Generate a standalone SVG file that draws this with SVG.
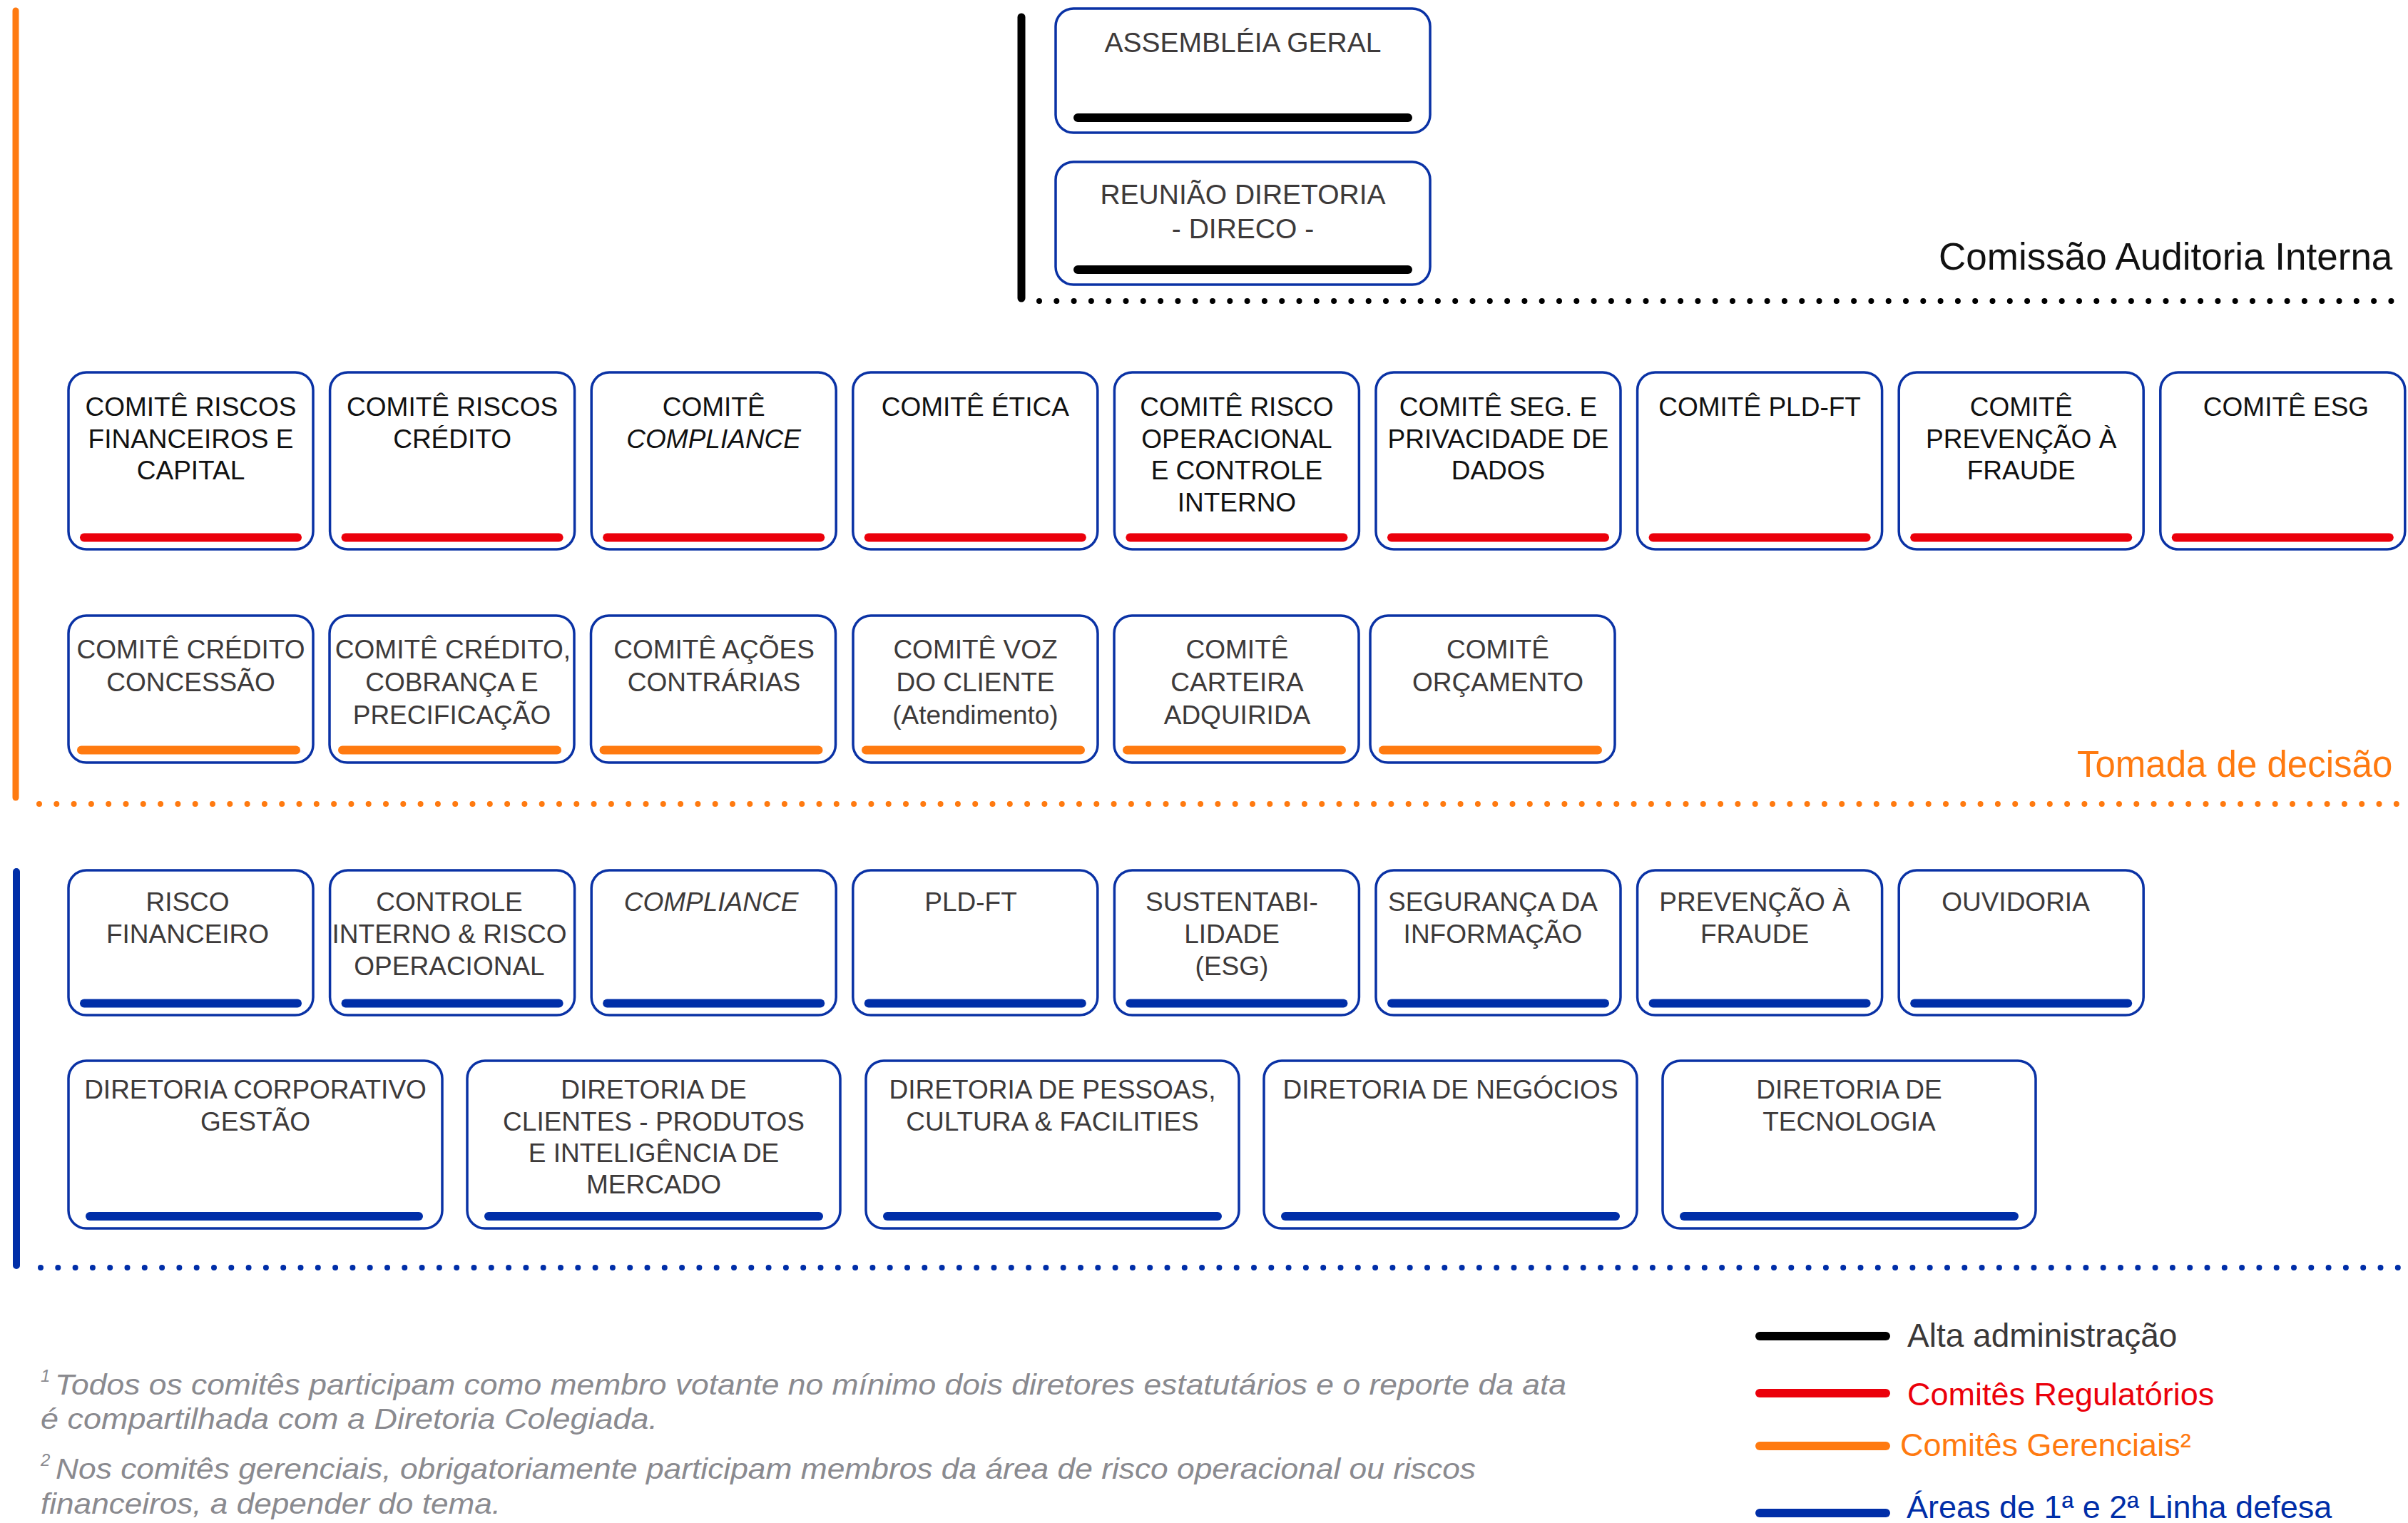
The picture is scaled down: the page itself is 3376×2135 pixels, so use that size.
<svg xmlns="http://www.w3.org/2000/svg" width="3376" height="2135" viewBox="0 0 3376 2135">
<style>
.box{fill:#fff;stroke:#0a32a5;stroke-width:3.5}
.t{font-family:"Liberation Sans",Arial,sans-serif;font-size:37px;text-anchor:middle}
.tb{font-size:39px}
.k{fill:#111}
.g{fill:#3d3a3a}
.i{font-style:italic}
.bar{stroke-width:12;stroke-linecap:round;fill:none}
.bk{stroke:#000}
.rd{stroke:#eb000b}
.or{stroke:#ff7a10}
.bl{stroke:#002ea8}
.dots{stroke-width:8;stroke-linecap:round;stroke-dasharray:0 24.3;fill:none}
.lbl{font-family:"Liberation Sans",Arial,sans-serif}
.fn{font-family:"Liberation Sans",Arial,sans-serif;font-style:italic;fill:#8a8a8f;font-size:40px}
.sup{font-family:"Liberation Sans",Arial,sans-serif;font-style:italic;fill:#8a8a8f;font-size:24px}
</style>

<g id="connectors">
  <line x1="22" y1="15" x2="22" y2="1118" stroke="#ff7a10" stroke-width="9" stroke-linecap="round"/>
  <line x1="23" y1="1222" x2="23" y2="1774" stroke="#002ea8" stroke-width="10" stroke-linecap="round"/>
  <line x1="1432" y1="24" x2="1432" y2="418" stroke="#000" stroke-width="11" stroke-linecap="round"/>
  <line class="dots" x1="1457" y1="422" x2="3376" y2="422" stroke="#000"/>
  <line class="dots" x1="55" y1="1127" x2="3376" y2="1127" stroke="#ff7a10"/>
  <line class="dots" x1="57" y1="1777" x2="3376" y2="1777" stroke="#002ea8"/>
</g>

<g id="labels">
  <text class="lbl" x="2718" y="378" font-size="53" fill="#111">Comissão Auditoria Interna</text>
  <text class="lbl" x="2912" y="1089" font-size="51" fill="#ff7a10">Tomada de decisão</text>
</g>

<!-- Top boxes -->
<g id="assembleia-geral">
  <rect class="box" x="1480" y="12" width="525" height="174" rx="25"/>
  <text class="t tb g" x="1742.5" y="73">ASSEMBLÉIA GERAL</text>
  <line class="bar bk" x1="1511" y1="165" x2="1974" y2="165"/>
</g>
<g id="reuniao-diretoria">
  <rect class="box" x="1480" y="227" width="525" height="172" rx="25"/>
  <text class="t tb g" x="1742.5" y="286">REUNIÃO DIRETORIA</text>
  <text class="t tb g" x="1742.5" y="334">- DIRECO -</text>
  <line class="bar bk" x1="1511" y1="378" x2="1974" y2="378"/>
</g>

<!-- Row 1: Comitês Regulatórios -->
<g id="comite-riscos-financeiros">
  <rect class="box" x="96" y="522" width="343" height="248" rx="25"/>
  <text class="t k" x="267.5" y="583">COMITÊ RISCOS</text>
  <text class="t k" x="267.5" y="627.5">FINANCEIROS E</text>
  <text class="t k" x="267.5" y="672">CAPITAL</text>
  <line class="bar rd" x1="118" y1="753.5" x2="417" y2="753.5"/>
</g>
<g id="comite-riscos-credito">
  <rect class="box" x="462.6" y="522" width="343" height="248" rx="25"/>
  <text class="t k" x="634.1" y="583">COMITÊ RISCOS</text>
  <text class="t k" x="634.1" y="627.5">CRÉDITO</text>
  <line class="bar rd" x1="484.6" y1="753.5" x2="783.6" y2="753.5"/>
</g>
<g id="comite-compliance">
  <rect class="box" x="829.2" y="522" width="343" height="248" rx="25"/>
  <text class="t k" x="1000.7" y="583">COMITÊ</text>
  <text class="t k i" x="1000.7" y="627.5">COMPLIANCE</text>
  <line class="bar rd" x1="851.2" y1="753.5" x2="1150.2" y2="753.5"/>
</g>
<g id="comite-etica">
  <rect class="box" x="1195.8" y="522" width="343" height="248" rx="25"/>
  <text class="t k" x="1367.3" y="583">COMITÊ ÉTICA</text>
  <line class="bar rd" x1="1217.8" y1="753.5" x2="1516.8" y2="753.5"/>
</g>
<g id="comite-risco-operacional">
  <rect class="box" x="1562.4" y="522" width="343" height="248" rx="25"/>
  <text class="t k" x="1733.9" y="583">COMITÊ RISCO</text>
  <text class="t k" x="1733.9" y="627.5">OPERACIONAL</text>
  <text class="t k" x="1733.9" y="672">E CONTROLE</text>
  <text class="t k" x="1733.9" y="716.5">INTERNO</text>
  <line class="bar rd" x1="1584.4" y1="753.5" x2="1883.4" y2="753.5"/>
</g>
<g id="comite-seg-privacidade">
  <rect class="box" x="1929" y="522" width="343" height="248" rx="25"/>
  <text class="t k" x="2100.5" y="583">COMITÊ SEG. E</text>
  <text class="t k" x="2100.5" y="627.5">PRIVACIDADE DE</text>
  <text class="t k" x="2100.5" y="672">DADOS</text>
  <line class="bar rd" x1="1951" y1="753.5" x2="2250" y2="753.5"/>
</g>
<g id="comite-pld-ft">
  <rect class="box" x="2295.6" y="522" width="343" height="248" rx="25"/>
  <text class="t k" x="2467.1" y="583">COMITÊ PLD-FT</text>
  <line class="bar rd" x1="2317.6" y1="753.5" x2="2616.6" y2="753.5"/>
</g>
<g id="comite-prevencao-fraude">
  <rect class="box" x="2662.2" y="522" width="343" height="248" rx="25"/>
  <text class="t k" x="2833.7" y="583">COMITÊ</text>
  <text class="t k" x="2833.7" y="627.5">PREVENÇÃO À</text>
  <text class="t k" x="2833.7" y="672">FRAUDE</text>
  <line class="bar rd" x1="2684.2" y1="753.5" x2="2983.2" y2="753.5"/>
</g>
<g id="comite-esg">
  <rect class="box" x="3028.8" y="522" width="343" height="248" rx="25"/>
  <text class="t k" x="3205" y="583">COMITÊ ESG</text>
  <line class="bar rd" x1="3050.8" y1="753.5" x2="3349.8" y2="753.5"/>
</g>

<!-- Row 2: Comitês Gerenciais -->
<g id="comite-credito-concessao">
  <rect class="box" x="96" y="863" width="343" height="206" rx="25"/>
  <text class="t g" x="267.5" y="923">COMITÊ CRÉDITO</text>
  <text class="t g" x="267.5" y="969">CONCESSÃO</text>
  <line class="bar or" x1="114" y1="1051.5" x2="415" y2="1051.5"/>
</g>
<g id="comite-credito-cobranca">
  <rect class="box" x="462" y="863" width="343" height="206" rx="25"/>
  <text class="t g" x="635" y="923">COMITÊ CRÉDITO,</text>
  <text class="t g" x="633.5" y="969">COBRANÇA E</text>
  <text class="t g" x="633.5" y="1015">PRECIFICAÇÃO</text>
  <line class="bar or" x1="480" y1="1051.5" x2="781" y2="1051.5"/>
</g>
<g id="comite-acoes-contrarias">
  <rect class="box" x="828.5" y="863" width="343" height="206" rx="25"/>
  <text class="t g" x="1001" y="923">COMITÊ AÇÕES</text>
  <text class="t g" x="1001" y="969">CONTRÁRIAS</text>
  <line class="bar or" x1="846.5" y1="1051.5" x2="1147.5" y2="1051.5"/>
</g>
<g id="comite-voz-cliente">
  <rect class="box" x="1196" y="863" width="343" height="206" rx="25"/>
  <text class="t g" x="1367.5" y="923">COMITÊ VOZ</text>
  <text class="t g" x="1367.5" y="969">DO CLIENTE</text>
  <text class="t g" x="1367.5" y="1015">(Atendimento)</text>
  <line class="bar or" x1="1214" y1="1051.5" x2="1515" y2="1051.5"/>
</g>
<g id="comite-carteira-adquirida">
  <rect class="box" x="1562" y="863" width="343" height="206" rx="25"/>
  <text class="t g" x="1734.5" y="923">COMITÊ</text>
  <text class="t g" x="1734.5" y="969">CARTEIRA</text>
  <text class="t g" x="1734.5" y="1015">ADQUIRIDA</text>
  <line class="bar or" x1="1580" y1="1051.5" x2="1881" y2="1051.5"/>
</g>
<g id="comite-orcamento">
  <rect class="box" x="1921" y="863" width="343" height="206" rx="25"/>
  <text class="t g" x="2100" y="923">COMITÊ</text>
  <text class="t g" x="2100" y="969">ORÇAMENTO</text>
  <line class="bar or" x1="1939" y1="1051.5" x2="2240" y2="1051.5"/>
</g>

<!-- Row 3: Áreas -->
<g id="risco-financeiro">
  <rect class="box" x="96" y="1220" width="343" height="203" rx="25"/>
  <text class="t g" x="263" y="1277">RISCO</text>
  <text class="t g" x="263" y="1322">FINANCEIRO</text>
  <line class="bar bl" x1="118" y1="1406.5" x2="417" y2="1406.5"/>
</g>
<g id="controle-interno-risco-operacional">
  <rect class="box" x="462.6" y="1220" width="343" height="203" rx="25"/>
  <text class="t g" x="630" y="1277">CONTROLE</text>
  <text class="t g" x="630" y="1322">INTERNO &amp; RISCO</text>
  <text class="t g" x="630" y="1367">OPERACIONAL</text>
  <line class="bar bl" x1="484.6" y1="1406.5" x2="783.6" y2="1406.5"/>
</g>
<g id="compliance">
  <rect class="box" x="829.2" y="1220" width="343" height="203" rx="25"/>
  <text class="t g i" x="997" y="1277">COMPLIANCE</text>
  <line class="bar bl" x1="851.2" y1="1406.5" x2="1150.2" y2="1406.5"/>
</g>
<g id="pld-ft">
  <rect class="box" x="1195.8" y="1220" width="343" height="203" rx="25"/>
  <text class="t g" x="1361" y="1277">PLD-FT</text>
  <line class="bar bl" x1="1217.8" y1="1406.5" x2="1516.8" y2="1406.5"/>
</g>
<g id="sustentabilidade">
  <rect class="box" x="1562.4" y="1220" width="343" height="203" rx="25"/>
  <text class="t g" x="1727" y="1277">SUSTENTABI-</text>
  <text class="t g" x="1727" y="1322">LIDADE</text>
  <text class="t g" x="1727" y="1367">(ESG)</text>
  <line class="bar bl" x1="1584.4" y1="1406.5" x2="1883.4" y2="1406.5"/>
</g>
<g id="seguranca-informacao">
  <rect class="box" x="1929" y="1220" width="343" height="203" rx="25"/>
  <text class="t g" x="2093" y="1277">SEGURANÇA DA</text>
  <text class="t g" x="2093" y="1322">INFORMAÇÃO</text>
  <line class="bar bl" x1="1951" y1="1406.5" x2="2250" y2="1406.5"/>
</g>
<g id="prevencao-fraude">
  <rect class="box" x="2295.6" y="1220" width="343" height="203" rx="25"/>
  <text class="t g" x="2460" y="1277">PREVENÇÃO À</text>
  <text class="t g" x="2460" y="1322">FRAUDE</text>
  <line class="bar bl" x1="2317.6" y1="1406.5" x2="2616.6" y2="1406.5"/>
</g>
<g id="ouvidoria">
  <rect class="box" x="2662.2" y="1220" width="343" height="203" rx="25"/>
  <text class="t g" x="2826" y="1277">OUVIDORIA</text>
  <line class="bar bl" x1="2684.2" y1="1406.5" x2="2983.2" y2="1406.5"/>
</g>

<!-- Row 4: Diretorias -->
<g id="diretoria-corporativo-gestao">
  <rect class="box" x="96" y="1487" width="524" height="235" rx="25"/>
  <text class="t g" x="358" y="1540">DIRETORIA CORPORATIVO</text>
  <text class="t g" x="358" y="1585">GESTÃO</text>
  <line class="bar bl" x1="126" y1="1705" x2="587" y2="1705"/>
</g>
<g id="diretoria-clientes">
  <rect class="box" x="655" y="1487" width="523" height="235" rx="25"/>
  <text class="t g" x="916.5" y="1540">DIRETORIA DE</text>
  <text class="t g" x="916.5" y="1585">CLIENTES - PRODUTOS</text>
  <text class="t g" x="916.5" y="1629">E INTELIGÊNCIA DE</text>
  <text class="t g" x="916.5" y="1673">MERCADO</text>
  <line class="bar bl" x1="685" y1="1705" x2="1148" y2="1705"/>
</g>
<g id="diretoria-pessoas">
  <rect class="box" x="1214" y="1487" width="523" height="235" rx="25"/>
  <text class="t g" x="1475.5" y="1540">DIRETORIA DE PESSOAS,</text>
  <text class="t g" x="1475.5" y="1585">CULTURA &amp; FACILITIES</text>
  <line class="bar bl" x1="1244" y1="1705" x2="1707" y2="1705"/>
</g>
<g id="diretoria-negocios">
  <rect class="box" x="1772" y="1487" width="523" height="235" rx="25"/>
  <text class="t g" x="2033.5" y="1540">DIRETORIA DE NEGÓCIOS</text>
  <line class="bar bl" x1="1802" y1="1705" x2="2265" y2="1705"/>
</g>
<g id="diretoria-tecnologia">
  <rect class="box" x="2331" y="1487" width="523" height="235" rx="25"/>
  <text class="t g" x="2592.5" y="1540">DIRETORIA DE</text>
  <text class="t g" x="2592.5" y="1585">TECNOLOGIA</text>
  <line class="bar bl" x1="2361" y1="1705" x2="2824" y2="1705"/>
</g>

<!-- Footnotes -->
<g id="footnotes">
  <text class="sup" x="57" y="1937">1</text>
  <text class="fn" x="77" y="1955" textLength="2119" lengthAdjust="spacingAndGlyphs">Todos os comitês participam como membro votante no mínimo dois diretores estatutários e o reporte da ata</text>
  <text class="fn" x="57" y="2003" textLength="865" lengthAdjust="spacingAndGlyphs">é compartilhada com a Diretoria Colegiada.</text>
  <text class="sup" x="57" y="2055">2</text>
  <text class="fn" x="78" y="2073" textLength="1991" lengthAdjust="spacingAndGlyphs">Nos comitês gerenciais, obrigatoriamente participam membros da área de risco operacional ou riscos</text>
  <text class="fn" x="57" y="2122" textLength="645" lengthAdjust="spacingAndGlyphs">financeiros, a depender do tema.</text>
</g>

<!-- Legend -->
<g id="legend">
  <line class="bar bk" x1="2467" y1="1873" x2="2644" y2="1873" stroke-width="13"/>
  <text class="lbl" x="2674" y="1888" font-size="46" fill="#3b3838">Alta administração</text>
  <line class="bar rd" x1="2467" y1="1953" x2="2644" y2="1953" stroke-width="13"/>
  <text class="lbl" x="2674" y="1970" font-size="45" fill="#eb000b">Comitês Regulatórios</text>
  <line class="bar or" x1="2467" y1="2027" x2="2644" y2="2027" stroke-width="13"/>
  <text class="lbl" x="2664" y="2041" font-size="45" fill="#ff7a10">Comitês Gerenciais²</text>
  <line class="bar bl" x1="2467" y1="2121" x2="2644" y2="2121" stroke-width="13"/>
  <text class="lbl" x="2673" y="2128" font-size="45" fill="#002ea8">Áreas de 1ª e 2ª Linha defesa</text>
</g>
</svg>
